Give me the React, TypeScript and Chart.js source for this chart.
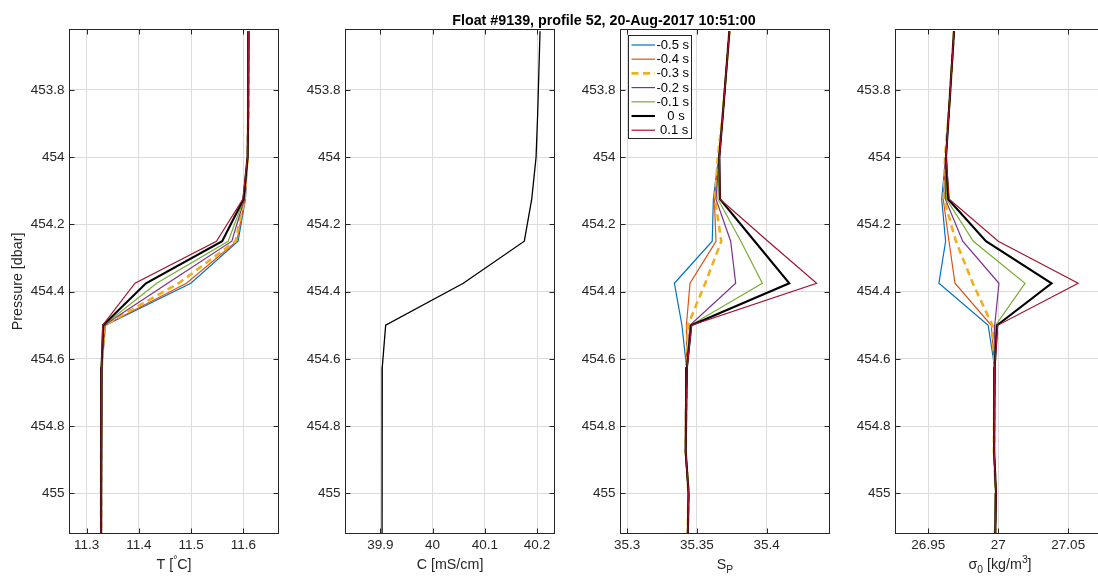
import React, { useEffect, useRef } from 'react';
import { Chart, registerables } from 'chart.js';

Chart.register(...registerables);

// ---------------- data ----------------
const PRESSURE = [453.625, 453.75, 453.875, 454.0, 454.125, 454.25, 454.375, 454.5, 454.625, 454.75, 454.875, 455.0, 455.125];

const LAG_LABELS = ['-0.5 s', '-0.4 s', '-0.3 s', '-0.2 s', '-0.1 s', '   0 s', ' 0.1 s'];

// Temperature [°C]
const T_LAG_M05 = [11.6102, 11.6098, 11.6094, 11.6086, 11.6040, 11.5900, 11.4995, 11.3360, 11.3292, 11.3282, 11.3278, 11.3276, 11.3275];
const T_LAG_M04 = [11.6102, 11.6098, 11.6094, 11.6085, 11.6032, 11.5875, 11.4910, 11.3348, 11.3290, 11.3282, 11.3278, 11.3276, 11.3275];
const T_LAG_M03 = [11.6101, 11.6097, 11.6093, 11.6084, 11.6025, 11.5850, 11.4760, 11.3338, 11.3288, 11.3281, 11.3277, 11.3275, 11.3275];
const T_LAG_M02 = [11.6101, 11.6097, 11.6093, 11.6083, 11.6020, 11.5780, 11.4550, 11.3330, 11.3286, 11.3281, 11.3277, 11.3275, 11.3274];
const T_LAG_M01 = [11.6100, 11.6096, 11.6092, 11.6082, 11.6010, 11.5710, 11.4340, 11.3322, 11.3285, 11.3280, 11.3277, 11.3275, 11.3274];
const T_LAG_0 = [11.6100, 11.6096, 11.6092, 11.6081, 11.6003, 11.5595, 11.4135, 11.3315, 11.3284, 11.3280, 11.3276, 11.3275, 11.3274];
const T_LAG_P01 = [11.6100, 11.6096, 11.6091, 11.6080, 11.5990, 11.5485, 11.3925, 11.3306, 11.3283, 11.3279, 11.3276, 11.3274, 11.3273];

// Conductivity [mS/cm]
const C_VALUES = [40.2058, 40.2035, 40.2012, 40.1982, 40.1899, 40.1757, 40.0589, 39.9103, 39.9038, 39.9034, 39.9033, 39.9035, 39.9034];

// Practical salinity
const S_LAG_M05 = [35.3733, 35.3709, 35.3686, 35.3655, 35.3618, 35.3610, 35.3339, 35.3393, 35.3426, 35.3422, 35.3418, 35.3439, 35.3433];
const S_LAG_M04 = [35.3733, 35.3709, 35.3686, 35.3657, 35.3625, 35.3637, 35.3451, 35.3425, 35.3427, 35.3422, 35.3418, 35.3439, 35.3433];
const S_LAG_M03 = [35.3733, 35.3709, 35.3684, 35.3650, 35.3630, 35.3675, 35.3560, 35.3435, 35.3428, 35.3423, 35.3419, 35.3440, 35.3434];
const S_LAG_M02 = [35.3733, 35.3709, 35.3686, 35.3660, 35.3637, 35.3742, 35.3778, 35.3450, 35.3428, 35.3423, 35.3419, 35.3440, 35.3434];
const S_LAG_M01 = [35.3733, 35.3709, 35.3686, 35.3661, 35.3651, 35.3815, 35.3969, 35.3455, 35.3429, 35.3423, 35.3419, 35.3440, 35.3434];
const S_LAG_0 = [35.3733, 35.3709, 35.3686, 35.3661, 35.3666, 35.3914, 35.4162, 35.3460, 35.3429, 35.3424, 35.3420, 35.3441, 35.3435];
const S_LAG_P01 = [35.3733, 35.3709, 35.3686, 35.3662, 35.3666, 35.4009, 35.4358, 35.3463, 35.3430, 35.3424, 35.3420, 35.3441, 35.3435];

// Potential density anomaly sigma0 [kg/m^3]
const SIG_LAG_M05 = [26.9684, 26.9665, 26.9646, 26.9624, 26.9596, 26.9624, 26.9576, 26.9928, 26.9974, 26.9971, 26.9969, 26.9983, 26.9978];
const SIG_LAG_M04 = [26.9684, 26.9665, 26.9646, 26.9625, 26.9607, 26.9648, 26.9691, 26.9950, 26.9974, 26.9971, 26.9969, 26.9983, 26.9978];
const SIG_LAG_M03 = [26.9684, 26.9665, 26.9645, 26.9620, 26.9612, 26.9698, 26.9818, 26.9958, 26.9974, 26.9971, 26.9969, 26.9983, 26.9978];
const SIG_LAG_M02 = [26.9684, 26.9665, 26.9646, 26.9626, 26.9622, 26.9746, 27.0005, 26.9975, 26.9974, 26.9971, 26.9969, 26.9983, 26.9978];
const SIG_LAG_M01 = [26.9684, 26.9665, 26.9646, 26.9627, 26.9631, 26.9822, 27.0191, 26.9982, 26.9975, 26.9971, 26.9969, 26.9983, 26.9978];
const SIG_LAG_0 = [26.9684, 26.9665, 26.9646, 26.9627, 26.9643, 26.9912, 27.0381, 26.9992, 26.9975, 26.9972, 26.9970, 26.9984, 26.9979];
const SIG_LAG_P01 = [26.9684, 26.9665, 26.9646, 26.9627, 26.9650, 27.0000, 27.0571, 26.9996, 26.9975, 26.9972, 26.9970, 26.9984, 26.9979];

// axis ticks / limits
const P_TICKS = [453.8, 454, 454.2, 454.4, 454.6, 454.8, 455];
const P_LIMITS = [453.62, 455.1196];
const T_TICKS = [11.3, 11.4, 11.5, 11.6];
const T_LIMITS = [11.267, 11.6674];
const C_TICKS = [39.9, 40, 40.1, 40.2];
const C_LIMITS = [39.8334, 40.2335];
const S_TICKS = [35.3, 35.35, 35.4];
const S_LIMITS = [35.2953, 35.445];
const SIG_TICKS = [26.95, 27, 27.05];
const SIG_LIMITS = [26.9266, 27.0759];

const TITLE = 'Float #9139, profile 52, 20-Aug-2017 10:51:00';
const Y_TITLE = 'Pressure [dbar]';

// ---------------- styles ----------------
const FONT = '"Liberation Sans", Arial, Helvetica, sans-serif';
const INK = '#262626';
const GRID = '#dcdcdc';
const LAG_COLORS = ['#0072BD', '#D95319', '#EDB120', '#7E2F8E', '#77AC30', '#000000', '#A2142F'];
const LAG_WIDTHS = [1.2, 1.2, 2.6, 1.2, 1.2, 2.1, 1.2];
const LAG_DASHES: number[][] = [[], [], [7, 4.5], [], [], [], []];

const CANVAS_W = 1110;
const CANVAS_H = 576;
const AREA_TOP = 29.5;
const AREA_BOTTOM = 533.5;
const Y_AXIS_W = 69.5;
const TICK_FONT_SIZE = 13.5;

type Part = { t: string; s?: 'sub' | 'sup' };

const PANELS = [
  {
    left: 69.5, right: 278.5, limits: T_LIMITS, ticks: T_TICKS,
    series: [T_LAG_M05, T_LAG_M04, T_LAG_M03, T_LAG_M02, T_LAG_M01, T_LAG_0, T_LAG_P01],
    xTitle: [{ t: 'T [' }, { t: '°', s: 'sup' }, { t: 'C]' }] as Part[],
    yTitle: true, title: false, legend: false,
  },
  {
    left: 345.5, right: 554.5, limits: C_LIMITS, ticks: C_TICKS,
    series: [C_VALUES],
    xTitle: [{ t: 'C [mS/cm]' }] as Part[],
    yTitle: false, title: false, legend: false,
  },
  {
    left: 620.5, right: 829.5, limits: S_LIMITS, ticks: S_TICKS,
    series: [S_LAG_M05, S_LAG_M04, S_LAG_M03, S_LAG_M02, S_LAG_M01, S_LAG_0, S_LAG_P01],
    xTitle: [{ t: 'S' }, { t: 'P', s: 'sub' }] as Part[],
    yTitle: false, title: true, legend: true,
  },
  {
    left: 895.5, right: 1104.5, limits: SIG_LIMITS, ticks: SIG_TICKS,
    series: [SIG_LAG_M05, SIG_LAG_M04, SIG_LAG_M03, SIG_LAG_M02, SIG_LAG_M01, SIG_LAG_0, SIG_LAG_P01],
    xTitle: [{ t: 'σ' }, { t: '0', s: 'sub' }, { t: ' [kg/m' }, { t: '3', s: 'sup' }, { t: ']' }] as Part[],
    yTitle: false, title: false, legend: false,
  },
];

const fmt = (v: number) => String(Number(v.toFixed(4)));

function drawRich(ctx: CanvasRenderingContext2D, parts: Part[], cx: number, baseline: number, size: number) {
  const fontFor = (p: Part) => `${p.s ? size * 0.72 : size}px ${FONT}`;
  const widths = parts.map((p) => {
    ctx.font = fontFor(p);
    return ctx.measureText(p.t).width;
  });
  const total = widths.reduce((a, b) => a + b, 0);
  let x = cx - total / 2;
  ctx.textAlign = 'left';
  ctx.textBaseline = 'alphabetic';
  parts.forEach((p, i) => {
    ctx.font = fontFor(p);
    const dy = p.s === 'sub' ? size * 0.28 : p.s === 'sup' ? -size * 0.42 : 0;
    ctx.fillText(p.t, x, baseline + dy);
    x += widths[i];
  });
}

function buildConfig(p: typeof PANELS[number]): any {
  const single = p.series.length === 1;
  const datasets = p.series.map((vals, k) => ({
    label: single ? 'C' : LAG_LABELS[k],
    data: vals.map((v, j) => ({ x: v, y: PRESSURE[j] })),
    borderColor: single ? '#000000' : LAG_COLORS[k],
    backgroundColor: single ? '#000000' : LAG_COLORS[k],
    borderWidth: single ? 1.3 : LAG_WIDTHS[k],
    borderDash: single ? [] : LAG_DASHES[k],
    borderJoinStyle: 'miter',
    borderCapStyle: 'butt',
    pointRadius: 0,
    pointHoverRadius: 0,
    fill: false,
    tension: 0,
    order: p.series.length - k,
  }));

  const framePlugin = {
    id: 'matlabFrame',
    afterDatasetsDraw(chart: any) {
      const { ctx, chartArea: a, scales } = chart;
      ctx.save();
      ctx.strokeStyle = INK;
      ctx.lineWidth = 1;
      ctx.setLineDash([]);
      ctx.strokeRect(a.left, a.top, a.right - a.left, a.bottom - a.top);
      const TL = 5;
      ctx.beginPath();
      scales.x.ticks.forEach((t: any) => {
        const px = Math.round(scales.x.getPixelForValue(t.value)) + 0.5;
        ctx.moveTo(px, a.bottom);
        ctx.lineTo(px, a.bottom - TL);
        ctx.moveTo(px, a.top);
        ctx.lineTo(px, a.top + TL);
      });
      scales.y.ticks.forEach((t: any) => {
        const py = Math.round(scales.y.getPixelForValue(t.value)) + 0.5;
        ctx.moveTo(a.left, py);
        ctx.lineTo(a.left + TL, py);
        ctx.moveTo(a.right, py);
        ctx.lineTo(a.right - TL, py);
      });
      ctx.stroke();
      ctx.restore();
    },
    afterDraw(chart: any) {
      const { ctx, chartArea: a } = chart;
      ctx.save();
      ctx.fillStyle = INK;
      drawRich(ctx, p.xTitle, (a.left + a.right) / 2, 569, 14.3);
      if (p.yTitle) {
        ctx.save();
        ctx.translate(22, (a.top + a.bottom) / 2);
        ctx.rotate(-Math.PI / 2);
        ctx.font = `14.3px ${FONT}`;
        ctx.textAlign = 'center';
        ctx.textBaseline = 'alphabetic';
        ctx.fillText(Y_TITLE, 0, 0);
        ctx.restore();
      }
      if (p.title) {
        ctx.font = `bold 14.3px ${FONT}`;
        ctx.fillStyle = '#000';
        ctx.textAlign = 'center';
        ctx.textBaseline = 'alphabetic';
        ctx.fillText(TITLE, 604, 24.5);
      }
      if (p.legend) {
        const bx = 628.5, by = 35.5, bw = 63, bh = 103;
        ctx.fillStyle = '#fff';
        ctx.fillRect(bx, by, bw, bh);
        ctx.strokeStyle = INK;
        ctx.lineWidth = 1;
        ctx.strokeRect(bx, by, bw, bh);
        chart.data.datasets.forEach((ds: any, k: number) => {
          const y = 45 + k * 14.2;
          ctx.beginPath();
          ctx.strokeStyle = ds.borderColor;
          ctx.lineWidth = ds.borderWidth;
          ctx.setLineDash(ds.borderDash || []);
          ctx.moveTo(631.5, y);
          ctx.lineTo(655, y);
          ctx.stroke();
          ctx.setLineDash([]);
          ctx.fillStyle = '#000';
          ctx.font = `13px ${FONT}`;
          ctx.textAlign = 'left';
          ctx.textBaseline = 'middle';
          ctx.fillText(ds.label, 656.5, y + 0.5);
        });
      }
      ctx.restore();
    },
  };

  const tickFont = { family: FONT, size: TICK_FONT_SIZE };

  return {
    type: 'line',
    data: { datasets },
    plugins: [framePlugin],
    options: {
      animation: false,
      responsive: false,
      maintainAspectRatio: false,
      events: [],
      layout: {
        padding: {
          left: p.left - Y_AXIS_W,
          right: CANVAS_W - p.right,
          top: AREA_TOP,
          bottom: 0,
        },
      },
      plugins: {
        legend: { display: false },
        title: { display: false },
        tooltip: { enabled: false },
      },
      scales: {
        x: {
          type: 'linear',
          position: 'bottom',
          min: p.limits[0],
          max: p.limits[1],
          afterBuildTicks: (s: any) => {
            s.ticks = p.ticks.map((v) => ({ value: v }));
          },
          afterFit: (s: any) => {
            s.height = CANVAS_H - AREA_BOTTOM;
          },
          ticks: {
            autoSkip: false,
            maxRotation: 0,
            minRotation: 0,
            padding: 4,
            color: INK,
            font: tickFont,
            callback: (v: number) => fmt(v),
          },
          grid: { color: GRID, lineWidth: 1, drawTicks: false },
          border: { display: false },
        },
        y: {
          type: 'linear',
          position: 'left',
          reverse: true,
          min: P_LIMITS[0],
          max: P_LIMITS[1],
          afterBuildTicks: (s: any) => {
            s.ticks = P_TICKS.map((v) => ({ value: v }));
          },
          afterFit: (s: any) => {
            s.width = Y_AXIS_W;
          },
          ticks: {
            autoSkip: false,
            padding: 5,
            color: INK,
            font: tickFont,
            callback: (v: number) => fmt(v),
          },
          grid: { color: GRID, lineWidth: 1, drawTicks: false },
          border: { display: false },
        },
      },
    },
  };
}

export default function App() {
  const r0 = useRef<HTMLCanvasElement>(null);
  const r1 = useRef<HTMLCanvasElement>(null);
  const r2 = useRef<HTMLCanvasElement>(null);
  const r3 = useRef<HTMLCanvasElement>(null);
  const refs = [r0, r1, r2, r3];

  useEffect(() => {
    const charts = PANELS.map((p, i) => new Chart(refs[i].current as HTMLCanvasElement, buildConfig(p)));
    return () => charts.forEach((c) => c.destroy());
  }, []);

  return (
    <div
      style={{
        position: 'fixed',
        left: 0,
        top: 0,
        width: 1098,
        height: 576,
        overflow: 'hidden',
        background: '#ffffff',
      }}
    >
      {refs.map((r, i) => (
        <canvas
          key={i}
          ref={r}
          width={CANVAS_W}
          height={CANVAS_H}
          style={{ position: 'absolute', left: 0, top: 0 }}
        />
      ))}
    </div>
  );
}
